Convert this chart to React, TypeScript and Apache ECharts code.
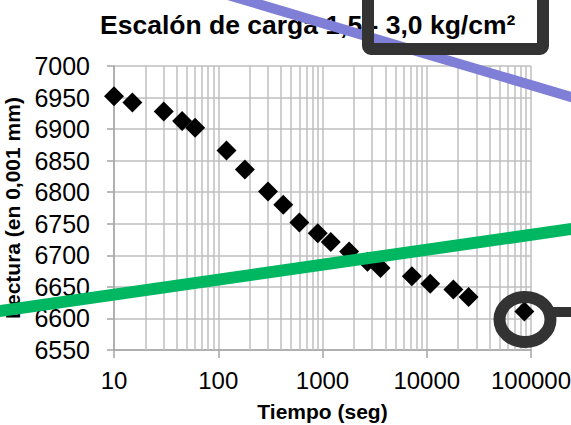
import React, { useEffect, useRef } from "react";
import * as echarts from "echarts";

const TITLE = "Escalón de carga 1,5 - 3,0 kg/cm²";
const X_NAME = "Tiempo (seg)";
const Y_NAME = "Lectura (en 0,001 mm)";

const times = [10, 15, 30, 45, 60, 120, 180, 300, 420, 600, 900, 1200, 1800, 2700, 3600, 7200, 10800, 18000, 25200, 86400];
const readings = [6952, 6942, 6928, 6913, 6902, 6866, 6836, 6801, 6780, 6752, 6735, 6721, 6706, 6690, 6680, 6667, 6655, 6646, 6634, 6611];

const X_MIN = 10;
const X_MAX = 100000;
const Y_MIN = 6550;
const Y_MAX = 7000;
const Y_STEP = 50;

const decades = [10, 100, 1000, 10000];
const multipliers = [2, 3, 4, 5, 6, 7, 8, 9];

const FONT = "Liberation Sans, Arial, sans-serif";
const GRID_COLOR = "#BFBFBF";
const AXIS_COLOR = "#A6A6A6";

export default function App() {
  const ref = useRef<HTMLDivElement>(null);
  useEffect(() => {
    if (!ref.current) return;
    const chart = echarts.init(ref.current, null, { renderer: "svg" });
    const minorLines: { xAxis: number }[] = [];
    decades.forEach((d) => multipliers.forEach((m) => minorLines.push({ xAxis: d * m })));

    chart.setOption({
      animation: false,
      backgroundColor: "#fff",
      title: {
        text: TITLE,
        left: 95,
        top: 6,
        textStyle: { fontFamily: FONT, fontSize: 26.5, fontWeight: "bold", color: "#000" },
      },
      grid: { left: 114, right: 40, top: 66, bottom: 75, outerBoundsMode: "none", containLabel: false },
      xAxis: {
        type: "log",
        logBase: 10,
        min: X_MIN,
        max: X_MAX,
        name: X_NAME,
        nameLocation: "middle",
        nameGap: 51,
        nameTextStyle: { fontFamily: FONT, fontSize: 21, fontWeight: "bold", color: "#000" },
        axisLine: { lineStyle: { color: AXIS_COLOR, width: 1.5 } },
        axisTick: { show: true, length: 8, lineStyle: { color: AXIS_COLOR, width: 1.5 } },
        axisLabel: { fontFamily: FONT, fontSize: 24, color: "#000", margin: 18, formatter: (v: number) => String(Math.round(v)) },
        splitLine: { show: true, lineStyle: { color: GRID_COLOR, width: 1.5 } },
      },
      yAxis: {
        type: "value",
        min: Y_MIN,
        max: Y_MAX,
        interval: Y_STEP,
        name: Y_NAME,
        nameLocation: "middle",
        nameGap: 82,
        nameTextStyle: { fontFamily: FONT, fontSize: 21, fontWeight: "bold", color: "#000" },
        axisLine: { show: true, lineStyle: { color: AXIS_COLOR, width: 1.5 } },
        axisTick: { show: true, length: 7, lineStyle: { color: AXIS_COLOR, width: 1.5 } },
        axisLabel: { fontFamily: FONT, fontSize: 25, color: "#000", margin: 24, formatter: (v: number) => String(v) },
        splitLine: { show: true, lineStyle: { color: GRID_COLOR, width: 1.5 } },
      },
      series: [
        {
          type: "scatter",
          data: [],
          z: 1,
          silent: true,
          markLine: {
            silent: true,
            symbol: ["none", "none"],
            label: { show: false },
            lineStyle: { color: GRID_COLOR, type: "solid", width: 1.5 },
            data: minorLines,
          },
        },
        {
          type: "scatter",
          z: 5,
          symbol: "diamond",
          symbolSize: 20,
          itemStyle: { color: "#000", opacity: 1 },
          data: times.map((t, i) => [t, readings[i]]),
        },
      ],
      graphic: [
        {
          type: "line",
          z: 100,
          shape: { x1: 228, y1: -5, x2: 600, y2: 105.6 },
          style: { stroke: "#7F7FD7", lineWidth: 10 },
        },
        {
          type: "line",
          z: 100,
          shape: { x1: -10, y1: 312.4, x2: 590, y2: 226.3 },
          style: { stroke: "#00B761", lineWidth: 12 },
        },
        {
          type: "rect",
          z: 100,
          shape: { x: 368, y: -20, width: 175, height: 69, r: 3 },
          style: { fill: "none", stroke: "#333333", lineWidth: 12 },
        },
        {
          type: "ellipse",
          z: 100,
          shape: { cx: 525, cy: 319.5, rx: 25.5, ry: 22.5 },
          style: { fill: "none", stroke: "#333333", lineWidth: 12 },
        },
        {
          type: "line",
          z: 100,
          shape: { x1: 550, y1: 312, x2: 580, y2: 312 },
          style: { stroke: "#333333", lineWidth: 10 },
        },
      ],
    });
    return () => chart.dispose();
  }, []);
  return <div ref={ref} style={{ width: 571, height: 425, position: "absolute", left: 0, top: 0 }} />;
}
